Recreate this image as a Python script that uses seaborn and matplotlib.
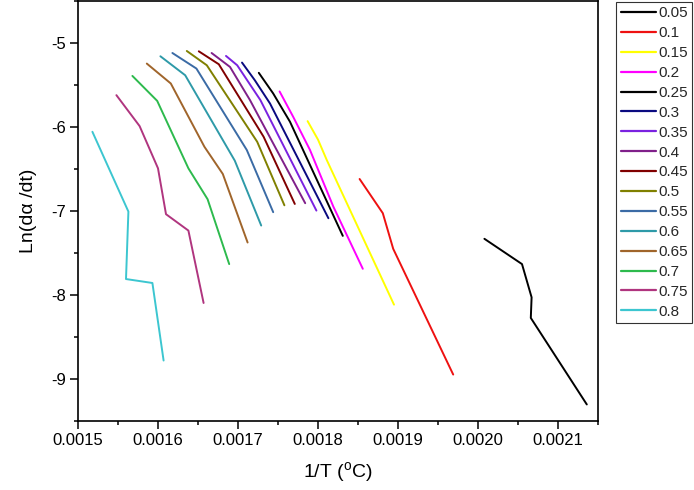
import matplotlib
matplotlib.use("Agg")
import matplotlib.pyplot as plt
import seaborn as sns
import pandas as pd

# ---- data ----
labels = ["0.05", "0.1", "0.15", "0.2", "0.25", "0.3", "0.35", "0.4",
          "0.45", "0.5", "0.55", "0.6", "0.65", "0.7", "0.75", "0.8"]

x05 = [0.002008, 0.002055, 0.002067, 0.002066, 0.002136]
y05 = [-7.331, -7.632, -8.028, -8.273, -9.303]
x10 = [0.001852, 0.001881, 0.001894, 0.001969]
y10 = [-6.619, -7.026, -7.450, -8.947]
x15 = [0.001787, 0.001800, 0.001811, 0.001895]
y15 = [-5.930, -6.150, -6.394, -8.115]
x20 = [0.001752, 0.001769, 0.001790, 0.001819, 0.001856]
y20 = [-5.577, -5.879, -6.274, -6.944, -7.688]
x25 = [0.001726, 0.001744, 0.001765, 0.001831]
y25 = [-5.355, -5.601, -5.938, -7.296]
x30 = [0.001705, 0.001721, 0.001740, 0.001813]
y30 = [-5.233, -5.443, -5.720, -7.086]
x35 = [0.001685, 0.001699, 0.001728, 0.001798]
y35 = [-5.154, -5.265, -5.680, -6.995]
x40 = [0.001667, 0.001690, 0.001715, 0.001784]
y40 = [-5.119, -5.285, -5.680, -6.907]
x45 = [0.001651, 0.001676, 0.001732, 0.001771]
y45 = [-5.099, -5.253, -6.116, -6.916]
x50 = [0.001636, 0.001661, 0.001724, 0.001758]
y50 = [-5.095, -5.265, -6.176, -6.932]
x55 = [0.001618, 0.001648, 0.001711, 0.001744]
y55 = [-5.119, -5.304, -6.274, -7.014]
x60 = [0.001603, 0.001634, 0.001696, 0.001729]
y60 = [-5.158, -5.384, -6.401, -7.173]
x65 = [0.001586, 0.001616, 0.001658, 0.001681, 0.001712]
y65 = [-5.245, -5.482, -6.235, -6.559, -7.375]
x70 = [0.001568, 0.001599, 0.001638, 0.001662, 0.001689]
y70 = [-5.392, -5.689, -6.492, -6.860, -7.632]
x75 = [0.001548, 0.001577, 0.001600, 0.001610, 0.001638, 0.001657]
y75 = [-5.621, -5.989, -6.492, -7.038, -7.233, -8.095]
x80 = [0.001518, 0.001563, 0.001560, 0.001593, 0.001607]
y80 = [-6.057, -7.007, -7.810, -7.857, -8.780]

xs = [x05, x10, x15, x20, x25, x30, x35, x40, x45, x50, x55, x60, x65, x70, x75, x80]
ys = [y05, y10, y15, y20, y25, y30, y35, y40, y45, y50, y55, y60, y65, y70, y75, y80]

colors = ["#000000", "#EE1111", "#FFFF00", "#FF00FF", "#000000", "#0A0A80",
          "#7A22E0", "#80208A", "#800000", "#808000", "#3B6BA5", "#2E9AA8",
          "#A0652B", "#2DBA4D", "#B0357F", "#3CC6D0"]

rows = []
for lab, xx, yy in zip(labels, xs, ys):
    for i, (a, b) in enumerate(zip(xx, yy)):
        rows.append({"series": lab, "order": i, "x": a, "y": b})
df = pd.DataFrame(rows)

# ---- style ----
sns.set_theme(style="white")
plt.rcParams["font.family"] = ["Liberation Sans", "DejaVu Sans"]
plt.rcParams["mathtext.fontset"] = "custom"
plt.rcParams["mathtext.rm"] = "Liberation Sans"
plt.rcParams["mathtext.it"] = "Liberation Sans:italic"
plt.rcParams["axes.unicode_minus"] = False

fig = plt.figure(figsize=(6.94, 4.90), dpi=100)
ax = fig.add_axes([78 / 694, 1 - 421 / 490, 520 / 694, 420 / 490])

sns.lineplot(data=df, x="x", y="y", hue="series", hue_order=labels,
             palette=colors, sort=False, estimator=None, units="series",
             linewidth=1.4, ax=ax, legend=True)

ax.set_xlim(0.0015, 0.00215)
ax.set_ylim(-9.5, -4.5)
ax.set_xticks([0.0015, 0.0016, 0.0017, 0.0018, 0.0019, 0.0020, 0.0021])
ax.set_xticklabels(["0.0015", "0.0016", "0.0017", "0.0018", "0.0019", "0.0020", "0.0021"])
ax.set_xticks([0.00155, 0.00165, 0.00175, 0.00185, 0.00195, 0.00205, 0.00215], minor=True)
ax.set_yticks([-9, -8, -7, -6, -5])
ax.set_yticklabels(["-9", "-8", "-7", "-6", "-5"])
ax.set_yticks([-9.5, -8.5, -7.5, -6.5, -5.5, -4.5], minor=True)

for s in ax.spines.values():
    s.set_visible(True)
    s.set_color("black")
    s.set_linewidth(1.2)

ax.tick_params(axis="both", which="major", direction="out", length=5.5, width=1.1,
               color="black", labelsize=12, labelcolor="black", bottom=True, left=True, pad=3)
ax.tick_params(axis="both", which="minor", direction="out", length=3.2, width=1.1,
               color="black", bottom=True, left=True)
ax.tick_params(top=False, right=False, which="both")

ax.set_xlabel(r"1/T ($^{\mathrm{o}}$C)", fontsize=14, color="black", labelpad=9)
ax.set_ylabel("Ln(dα /dt)", fontsize=14, color="black", labelpad=10)

leg = ax.legend(loc="upper left", bbox_to_anchor=((616 - 78) / 520, 0.998),
                borderaxespad=0, frameon=True, fancybox=False, shadow=False,
                fontsize=11, handlelength=2.3, handletextpad=0.15,
                labelspacing=0.385, borderpad=0.3, title=None)
leg.get_frame().set_edgecolor("black")
leg.get_frame().set_linewidth(0.8)
for h in leg.get_lines():
    h.set_linewidth(1.6)

fig.savefig("out.png", dpi=100)
